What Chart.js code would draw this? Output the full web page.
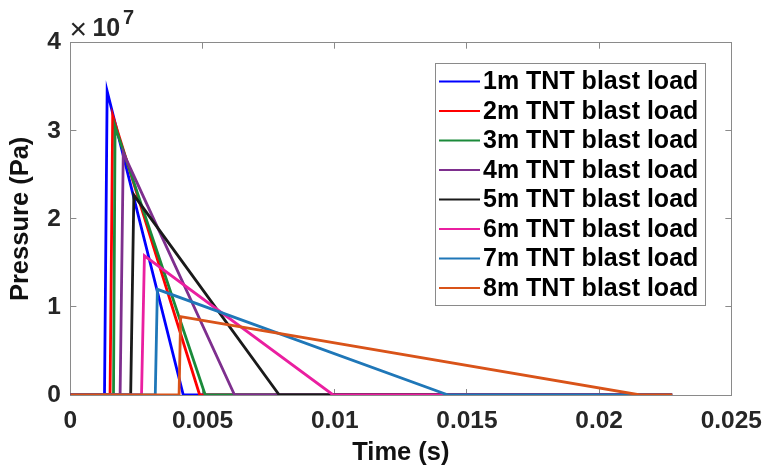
<!DOCTYPE html>
<html>
<head>
<meta charset="utf-8">
<script src="https://cdn.jsdelivr.net/npm/chart.js@4/dist/chart.umd.min.js"></script>
<style>
  html, body { margin: 0; padding: 0; background: #ffffff; }
  #wrap { width: 780px; height: 473px; position: relative; }
</style>
</head>
<body>
<div id="wrap"><canvas id="c" width="780" height="473"></canvas></div>
<script>
// ---- data ----
const seriesLabels = ['1m TNT blast load', '2m TNT blast load', '3m TNT blast load', '4m TNT blast load',
                      '5m TNT blast load', '6m TNT blast load', '7m TNT blast load', '8m TNT blast load'];
const seriesColors = ['#0000ff', '#ff0000', '#1b8a3a', '#7e2f8e', '#1a1a1a', '#ea1fa0', '#1f77b8', '#d95319'];
const arrivalTimes = [0.00129, 0.00150, 0.00163, 0.00188, 0.00228, 0.00269, 0.00321, 0.00411]; // s
const peakTimes    = [0.00139, 0.00160, 0.00169, 0.00200, 0.00240, 0.00280, 0.00329, 0.00417]; // s
const peakPressures = [3.45e7, 3.17e7, 3.05e7, 2.75e7, 2.27e7, 1.58e7, 1.20e7, 0.89e7]; // Pa
const endTimes     = [0.00427, 0.00489, 0.00510, 0.00621, 0.00790, 0.00994, 0.01429, 0.02155]; // s
const traceStart = 0;
const traceEnd = 0.02276;
const xTickValues = [0, 0.005, 0.01, 0.015, 0.02, 0.025];
const xTickLabels = ['0', '0.005', '0.01', '0.015', '0.02', '0.025'];
const yTickValues = [0, 1e7, 2e7, 3e7, 4e7];
const yTickLabels = ['0', '1', '2', '3', '4'];

const FONT = "'Liberation Sans', Arial, Helvetica, sans-serif";
const AXIS_COLOR = '#8a8a8a';
const TICK_TEXT = '#262626';

const datasets = seriesLabels.map((lab, i) => ({
  label: lab,
  data: [
    {x: traceStart, y: 0},
    {x: arrivalTimes[i], y: 0},
    {x: peakTimes[i], y: peakPressures[i]},
    {x: endTimes[i], y: 0},
    {x: traceEnd, y: 0}
  ],
  borderColor: seriesColors[i],
  backgroundColor: seriesColors[i],
  borderWidth: 2.8,
  pointRadius: 0,
  tension: 0,
  fill: false,
  order: seriesLabels.length - 1 - i
}));

const legendPlugin = {
  id: 'insideLegend',
  afterDraw(chart) {
    const ctx = chart.ctx;
    const area = chart.chartArea;
    const x0 = 434.5, y0 = 62.7, w = 270, h = 242.3;
    ctx.save();
    ctx.fillStyle = '#ffffff';
    ctx.fillRect(x0, y0, w, h);
    ctx.strokeStyle = AXIS_COLOR;
    ctx.lineWidth = 1;
    ctx.strokeRect(Math.round(x0) + 0.5, Math.round(y0) + 0.5, Math.round(w), Math.round(h));
    ctx.font = 'bold 25px ' + FONT;
    ctx.textBaseline = 'middle';
    ctx.textAlign = 'left';
    chart.data.datasets.forEach((ds, i) => {
      const yy = 81.5 + i * 29.5;
      ctx.strokeStyle = ds.borderColor;
      ctx.lineWidth = 2;
      ctx.beginPath();
      ctx.moveTo(439, yy);
      ctx.lineTo(480, yy);
      ctx.stroke();
      ctx.fillStyle = '#000000';
      ctx.fillText(ds.label, 483, yy + 1);
    });
    // exponent label above the y axis
    ctx.fillStyle = TICK_TEXT;
    ctx.textBaseline = 'alphabetic';
    ctx.font = '30px ' + FONT;
    ctx.fillText('\u00d7', area.left - 1, 39);
    ctx.font = 'bold 25px ' + FONT;
    ctx.fillText('10', area.left + 22, 36);
    ctx.font = 'bold 20px ' + FONT;
    ctx.fillText('7', area.left + 52.5, 24);
    ctx.restore();
  }
};

new Chart(document.getElementById('c'), {
  type: 'line',
  data: { datasets },
  options: {
    responsive: false,
    animation: false,
    devicePixelRatio: 1,
    layout: { padding: { left: 0, right: 37.7, top: 42.7, bottom: 0 } },
    plugins: { legend: { display: false }, tooltip: { enabled: false } },
    scales: {
      x: {
        type: 'linear', position: 'bottom',
        min: 0, max: 0.025,
        afterFit(s) { s.height = 78; },
        afterBuildTicks(s) { s.ticks = xTickValues.map(v => ({value: v})); },
        ticks: {
          padding: 18, color: TICK_TEXT, maxRotation: 0, autoSkip: false,
          font: { family: FONT, size: 24.5, weight: 'bold' },
          callback(v, idx) { return xTickLabels[idx]; }
        },
        grid: { drawOnChartArea: false, drawTicks: true, tickLength: -6, color: AXIS_COLOR, tickColor: AXIS_COLOR },
        border: { display: true, color: AXIS_COLOR, width: 1 },
        title: { display: true, text: 'Time (s)', color: '#111111',
                 font: { family: FONT, size: 25.5, weight: 'bold' }, padding: { top: 0, bottom: 4.8 } }
      },
      x2: {
        type: 'linear', position: 'top',
        min: 0, max: 0.025,
        afterFit(s) { s.height = 0; },
        afterBuildTicks(s) { s.ticks = xTickValues.map(v => ({value: v})); },
        ticks: { display: false },
        grid: { drawOnChartArea: false, drawTicks: true, tickLength: -6, color: AXIS_COLOR, tickColor: AXIS_COLOR },
        border: { display: true, color: AXIS_COLOR, width: 1 }
      },
      y: {
        type: 'linear', position: 'left',
        min: 0, max: 4e7,
        afterFit(s) { s.width = 70.4; },
        afterBuildTicks(s) { s.ticks = yTickValues.map(v => ({value: v})); },
        ticks: {
          padding: 15.4, color: TICK_TEXT, autoSkip: false,
          font: { family: FONT, size: 24.5, weight: 'bold' },
          callback(v, idx) { return yTickLabels[idx]; }
        },
        grid: { drawOnChartArea: false, drawTicks: true, tickLength: -6, color: AXIS_COLOR, tickColor: AXIS_COLOR },
        border: { display: true, color: AXIS_COLOR, width: 1 },
        title: { display: true, text: 'Pressure (Pa)', color: '#111111',
                 font: { family: FONT, size: 25.5, weight: 'bold' }, padding: { top: 5.9, bottom: 0 } }
      },
      y2: {
        type: 'linear', position: 'right',
        min: 0, max: 4e7,
        afterFit(s) { s.width = 0; },
        afterBuildTicks(s) { s.ticks = yTickValues.map(v => ({value: v})); },
        ticks: { display: false },
        grid: { drawOnChartArea: false, drawTicks: true, tickLength: -6, color: AXIS_COLOR, tickColor: AXIS_COLOR },
        border: { display: true, color: AXIS_COLOR, width: 1 }
      }
    }
  },
  plugins: [legendPlugin]
});
</script>
</body>
</html>
